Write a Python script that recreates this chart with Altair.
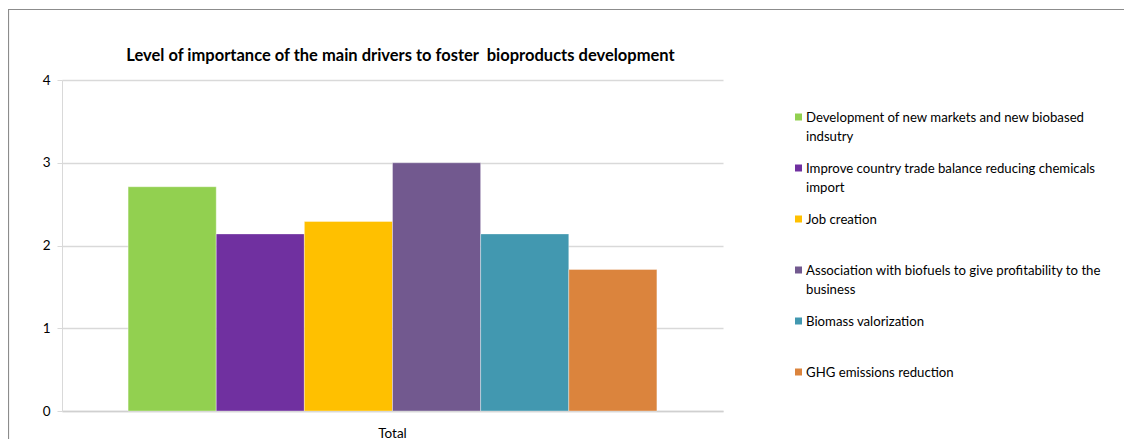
import altair as alt
import pandas as pd

drivers = [
    "Development of new markets and new biobased indsutry",
    "Improve country trade balance reducing chemicals import",
    "Job creation",
    "Association with biofuels to give profitability to the business",
    "Biomass valorization",
    "GHG emissions reduction",
]
legend_labels = [
    "Development of new markets and new biobased\nindsutry",
    "Improve country trade balance reducing chemicals\nimport",
    "Job creation",
    "Association with biofuels to give profitability to the\nbusiness",
    "Biomass valorization",
    "GHG emissions reduction",
]
values = [2.71, 2.14, 2.29, 3.0, 2.14, 1.71]
categories = ["Total"] * 6
colors = ["#92D050", "#7030A0", "#FFC000", "#72598F", "#4298B0", "#DB843D"]
y_ticks = [0, 1, 2, 3, 4]

FONT = "Lato"
TITLE = "Level of importance of the main drivers to foster \u00a0bioproducts development"

df = pd.DataFrame({"category": categories, "driver": drivers, "value": values})
leg_df = pd.DataFrame({"driver": drivers, "label": legend_labels})

color_scale = alt.Scale(domain=drivers, range=colors)

bars = (
    alt.Chart(df)
    .mark_bar(stroke="#ffffff", strokeWidth=0.6, strokeOpacity=0.6)
    .encode(
        x=alt.X(
            "category:N",
            title=None,
            scale=alt.Scale(paddingInner=0.2, paddingOuter=0.1),
            axis=alt.Axis(
                labelAngle=0, ticks=False, domainColor="#d0d0d0", domainWidth=1.5,
                labelFont=FONT, labelFontSize=13.5, labelColor="#000000", labelPadding=15,
            ),
        ),
        xOffset=alt.XOffset("driver:N", sort=drivers,
                            scale=alt.Scale(paddingInner=0, paddingOuter=0)),
        y=alt.Y(
            "value:Q",
            title=None,
            scale=alt.Scale(domain=[0, 4], nice=False),
            axis=alt.Axis(
                values=y_ticks, format="d", grid=True, gridColor="#d9d9d9", gridWidth=1.5,
                domainColor="#d9d9d9", tickColor="#d9d9d9", tickSize=5,
                labelFont=FONT, labelFontSize=13.5, labelColor="#000000", labelPadding=7,
            ),
        ),
        color=alt.Color("driver:N", scale=color_scale, legend=None),
    )
)

# outer chart-area frame (decoration)
frame = alt.Chart(pd.DataFrame({"f": [0]})).mark_rect(
    fill="#ffffff", fillOpacity=0, stroke="#8c8c8c", strokeWidth=1.2
).encode(
    x=alt.value(-53.5), x2=alt.value(1300),
    y=alt.value(-70.5), y2=alt.value(900),
)

ybase = alt.Y("driver:N", sort=drivers, axis=None,
              scale=alt.Scale(range=[37, 292], padding=0))

swatch = alt.Chart(leg_df).mark_square(size=49, opacity=1).encode(
    x=alt.value(736.5),
    y=ybase,
    color=alt.Color("driver:N", scale=color_scale, legend=None),
)
labels = alt.Chart(leg_df).mark_text(
    align="left", baseline="top", dy=-5, lineBreak="\n", lineHeight=19,
    font=FONT, fontSize=13.2, color="#000000",
).encode(
    x=alt.value(744),
    y=ybase,
    text="label:N",
)

chart = (
    alt.layer(frame, bars, swatch + labels)
    .resolve_scale(y="independent")
    .properties(
        width=661, height=331,
        title=alt.Title(TITLE, font=FONT, fontSize=16.5, fontWeight="bold",
                        color="#000000", offset=-55.5, dx=8, frame="group"),
        autosize=alt.AutoSizeParams(type="none"),
        padding={"left": 54, "top": 72, "right": 401, "bottom": 30},
    )
    .configure_view(stroke=None)
)

chart.save("out.html", embed_options={"renderer": "svg", "actions": False})
